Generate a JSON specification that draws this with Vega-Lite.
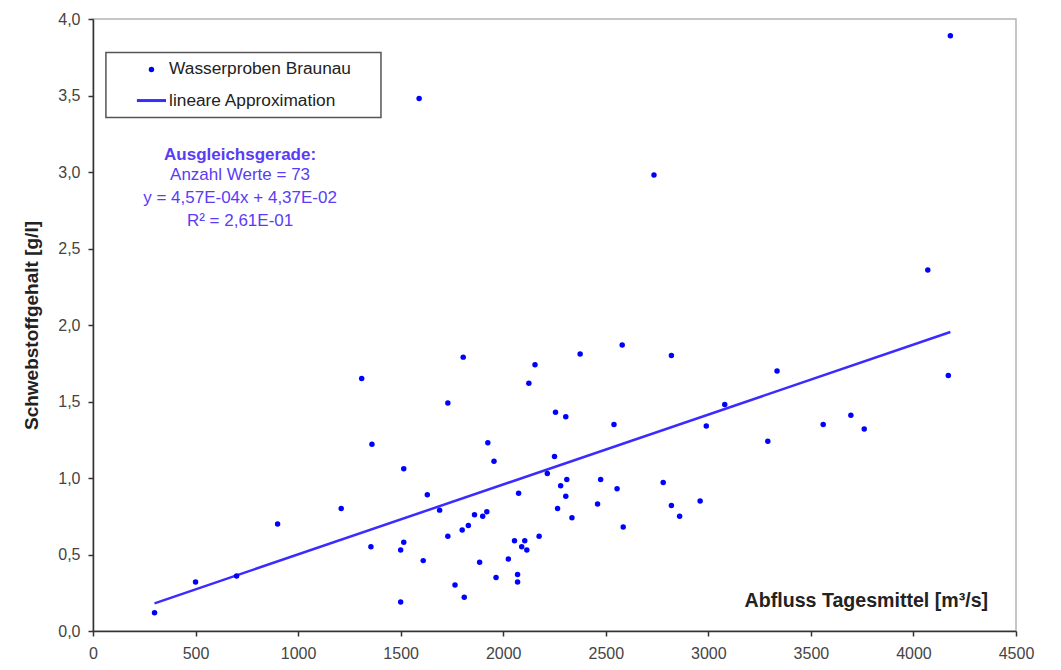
{
  "$schema": "https://vega.github.io/schema/vega-lite/v6.json",
  "width": 923,
  "height": 612,
  "autosize": "none",
  "padding": {"left": 93, "top": 19, "right": 45, "bottom": 39},
  "background": "white",
  "config": {
    "font": "Liberation Sans",
    "view": {"stroke": "#b4b4b4", "strokeWidth": 1.5},
    "axis": {
      "labelFont": "Liberation Sans",
      "labelFontSize": 16,
      "labelColor": "#444444",
      "domainColor": "#333333",
      "domainWidth": 1.5,
      "tickColor": "#333333",
      "tickWidth": 1.5,
      "tickSize": 5,
      "gridColor": "#d6d6d6",
      "gridWidth": 1.5,
      "titleFont": "Liberation Sans",
      "titleFontWeight": "bold",
      "titleColor": "#222222"
    }
  },
  "datasets": {
    "proben": [
      {"abfluss": 300, "schweb": 0.12},
      {"abfluss": 500, "schweb": 0.32},
      {"abfluss": 700, "schweb": 0.36},
      {"abfluss": 900, "schweb": 0.70},
      {"abfluss": 1210, "schweb": 0.80},
      {"abfluss": 1310, "schweb": 1.65},
      {"abfluss": 1360, "schweb": 1.22},
      {"abfluss": 1355, "schweb": 0.55},
      {"abfluss": 1500, "schweb": 0.53},
      {"abfluss": 1515, "schweb": 0.58},
      {"abfluss": 1515, "schweb": 1.06},
      {"abfluss": 1500, "schweb": 0.19},
      {"abfluss": 1610, "schweb": 0.46},
      {"abfluss": 1630, "schweb": 0.89},
      {"abfluss": 1690, "schweb": 0.79},
      {"abfluss": 1730, "schweb": 1.49},
      {"abfluss": 1730, "schweb": 0.62},
      {"abfluss": 1765, "schweb": 0.30},
      {"abfluss": 1805, "schweb": 1.79},
      {"abfluss": 1800, "schweb": 0.66},
      {"abfluss": 1830, "schweb": 0.69},
      {"abfluss": 1810, "schweb": 0.22},
      {"abfluss": 1860, "schweb": 0.76},
      {"abfluss": 1885, "schweb": 0.45},
      {"abfluss": 1900, "schweb": 0.75},
      {"abfluss": 1920, "schweb": 0.78},
      {"abfluss": 1925, "schweb": 1.23},
      {"abfluss": 1955, "schweb": 1.11},
      {"abfluss": 1965, "schweb": 0.35},
      {"abfluss": 2025, "schweb": 0.47},
      {"abfluss": 2055, "schweb": 0.59},
      {"abfluss": 2075, "schweb": 0.90},
      {"abfluss": 2070, "schweb": 0.37},
      {"abfluss": 2070, "schweb": 0.32},
      {"abfluss": 2090, "schweb": 0.55},
      {"abfluss": 2105, "schweb": 0.59},
      {"abfluss": 2115, "schweb": 0.53},
      {"abfluss": 2125, "schweb": 1.62},
      {"abfluss": 2155, "schweb": 1.74},
      {"abfluss": 2175, "schweb": 0.62},
      {"abfluss": 2215, "schweb": 1.03},
      {"abfluss": 2250, "schweb": 1.14},
      {"abfluss": 2255, "schweb": 1.43},
      {"abfluss": 2265, "schweb": 0.80},
      {"abfluss": 2280, "schweb": 0.95},
      {"abfluss": 2305, "schweb": 1.40},
      {"abfluss": 2305, "schweb": 0.88},
      {"abfluss": 2310, "schweb": 0.99},
      {"abfluss": 2335, "schweb": 0.74},
      {"abfluss": 2375, "schweb": 1.81},
      {"abfluss": 2580, "schweb": 1.87},
      {"abfluss": 2540, "schweb": 1.35},
      {"abfluss": 2475, "schweb": 0.99},
      {"abfluss": 2555, "schweb": 0.93},
      {"abfluss": 2460, "schweb": 0.83},
      {"abfluss": 2585, "schweb": 0.68},
      {"abfluss": 2820, "schweb": 1.80},
      {"abfluss": 2780, "schweb": 0.97},
      {"abfluss": 2820, "schweb": 0.82},
      {"abfluss": 2860, "schweb": 0.75},
      {"abfluss": 2960, "schweb": 0.85},
      {"abfluss": 2990, "schweb": 1.34},
      {"abfluss": 3080, "schweb": 1.48},
      {"abfluss": 3290, "schweb": 1.24},
      {"abfluss": 3335, "schweb": 1.70},
      {"abfluss": 3560, "schweb": 1.35},
      {"abfluss": 3695, "schweb": 1.41},
      {"abfluss": 3760, "schweb": 1.32},
      {"abfluss": 4170, "schweb": 1.67},
      {"abfluss": 2735, "schweb": 2.98},
      {"abfluss": 4180, "schweb": 3.89},
      {"abfluss": 4070, "schweb": 2.36},
      {"abfluss": 1590, "schweb": 3.48}
    ],
    "gerade": [
      {"abfluss": 300, "schweb": 0.1808},
      {"abfluss": 4180, "schweb": 1.954}
    ],
    "eins": [{"n": 1}]
  },
  "layer": [
    {
      "data": {"name": "eins"},
      "mark": {"type": "rect", "fill": "white"},
      "encoding": {
        "x": {"datum": 213, "type": "quantitative"},
        "x2": {"datum": 1196},
        "y": {"datum": 2.58, "type": "quantitative"},
        "y2": {"datum": 3.23}
      }
    },
    {
      "data": {"name": "eins"},
      "mark": {"type": "rect", "fill": "white"},
      "encoding": {
        "x": {"datum": 3200, "type": "quantitative"},
        "x2": {"datum": 4450},
        "y": {"datum": 0.04, "type": "quantitative"},
        "y2": {"datum": 0.317}
      }
    },
    {
      "data": {"name": "gerade"},
      "mark": {"type": "line", "strokeWidth": 2.5, "color": "#3b2bff"},
      "encoding": {
        "x": {
          "field": "abfluss",
          "type": "quantitative",
          "scale": {"domain": [0, 4500], "nice": false, "zero": false},
          "axis": {
            "title": null,
            "format": "d",
            "values": [0, 500, 1000, 1500, 2000, 2500, 3000, 3500, 4000, 4500],
            "labelPadding": 9,
            "labelFlush": false,
            "labelOverlap": false
          }
        },
        "y": {
          "field": "schweb",
          "type": "quantitative",
          "scale": {"domain": [0, 4], "nice": false, "zero": false},
          "axis": {
            "title": "Schwebstoffgehalt [g/l]",
            "titleFontSize": 19,
            "titlePadding": 16,
            "values": [0, 0.5, 1, 1.5, 2, 2.5, 3, 3.5, 4],
            "labelExpr": "replace(format(datum.value, '.1f'), '.', ',')",
            "labelPadding": 8,
            "labelFlush": false,
            "labelOverlap": false
          }
        }
      }
    },
    {
      "data": {"name": "proben"},
      "mark": {"type": "point", "filled": true, "size": 30, "opacity": 1, "shape": "circle", "color": "#0000ff"},
      "encoding": {
        "x": {"field": "abfluss", "type": "quantitative"},
        "y": {"field": "schweb", "type": "quantitative"}
      }
    },
    {
      "data": {"name": "eins"},
      "mark": {"type": "rect", "fill": "white", "stroke": "#555555", "strokeWidth": 1.5},
      "encoding": {
        "x": {"datum": 63, "type": "quantitative"},
        "x2": {"datum": 1404},
        "y": {"datum": 3.356, "type": "quantitative"},
        "y2": {"datum": 3.781}
      }
    },
    {
      "data": {"name": "eins"},
      "mark": {"type": "point", "filled": true, "size": 30, "opacity": 1, "shape": "circle", "color": "#0000ff"},
      "encoding": {
        "x": {"datum": 285, "type": "quantitative"},
        "y": {"datum": 3.67, "type": "quantitative"}
      }
    },
    {
      "data": {"name": "eins"},
      "mark": {"type": "rule", "strokeWidth": 3, "color": "#3b2bff"},
      "encoding": {
        "x": {"datum": 214, "type": "quantitative"},
        "x2": {"datum": 356},
        "y": {"datum": 3.467, "type": "quantitative"}
      }
    },
    {
      "data": {"name": "eins"},
      "mark": {"type": "text", "text": "Wasserproben Braunau", "font": "Liberation Sans", "fontSize": 17.3, "color": "#222222", "align": "left", "baseline": "middle"},
      "encoding": {
        "x": {"datum": 371, "type": "quantitative"},
        "y": {"datum": 3.67, "type": "quantitative"}
      }
    },
    {
      "data": {"name": "eins"},
      "mark": {"type": "text", "text": "lineare Approximation", "font": "Liberation Sans", "fontSize": 17.3, "color": "#222222", "align": "left", "baseline": "middle"},
      "encoding": {
        "x": {"datum": 371, "type": "quantitative"},
        "y": {"datum": 3.467, "type": "quantitative"}
      }
    },
    {
      "data": {"name": "eins"},
      "mark": {"type": "text", "text": "Ausgleichsgerade:", "font": "Liberation Sans", "fontSize": 17, "fontWeight": "bold", "color": "#5a3cf5", "align": "center", "baseline": "middle"},
      "encoding": {
        "x": {"datum": 717, "type": "quantitative"},
        "y": {"datum": 3.11, "type": "quantitative"}
      }
    },
    {
      "data": {"name": "eins"},
      "mark": {"type": "text", "text": "Anzahl Werte = 73", "font": "Liberation Sans", "fontSize": 17, "color": "#5a3cf5", "align": "center", "baseline": "middle"},
      "encoding": {
        "x": {"datum": 717, "type": "quantitative"},
        "y": {"datum": 2.979, "type": "quantitative"}
      }
    },
    {
      "data": {"name": "eins"},
      "mark": {"type": "text", "text": "y = 4,57E-04x + 4,37E-02", "font": "Liberation Sans", "fontSize": 17, "color": "#5a3cf5", "align": "center", "baseline": "middle"},
      "encoding": {
        "x": {"datum": 717, "type": "quantitative"},
        "y": {"datum": 2.831, "type": "quantitative"}
      }
    },
    {
      "data": {"name": "eins"},
      "mark": {"type": "text", "text": "R² = 2,61E-01", "font": "Liberation Sans", "fontSize": 17, "color": "#5a3cf5", "align": "center", "baseline": "middle"},
      "encoding": {
        "x": {"datum": 717, "type": "quantitative"},
        "y": {"datum": 2.683, "type": "quantitative"}
      }
    },
    {
      "data": {"name": "eins"},
      "mark": {"type": "text", "text": "Abfluss Tagesmittel [m³/s]", "font": "Liberation Sans", "fontSize": 19.6, "fontWeight": "bold", "color": "#222222", "align": "right", "baseline": "middle"},
      "encoding": {
        "x": {"datum": 4364, "type": "quantitative"},
        "y": {"datum": 0.193, "type": "quantitative"}
      }
    }
  ]
}
